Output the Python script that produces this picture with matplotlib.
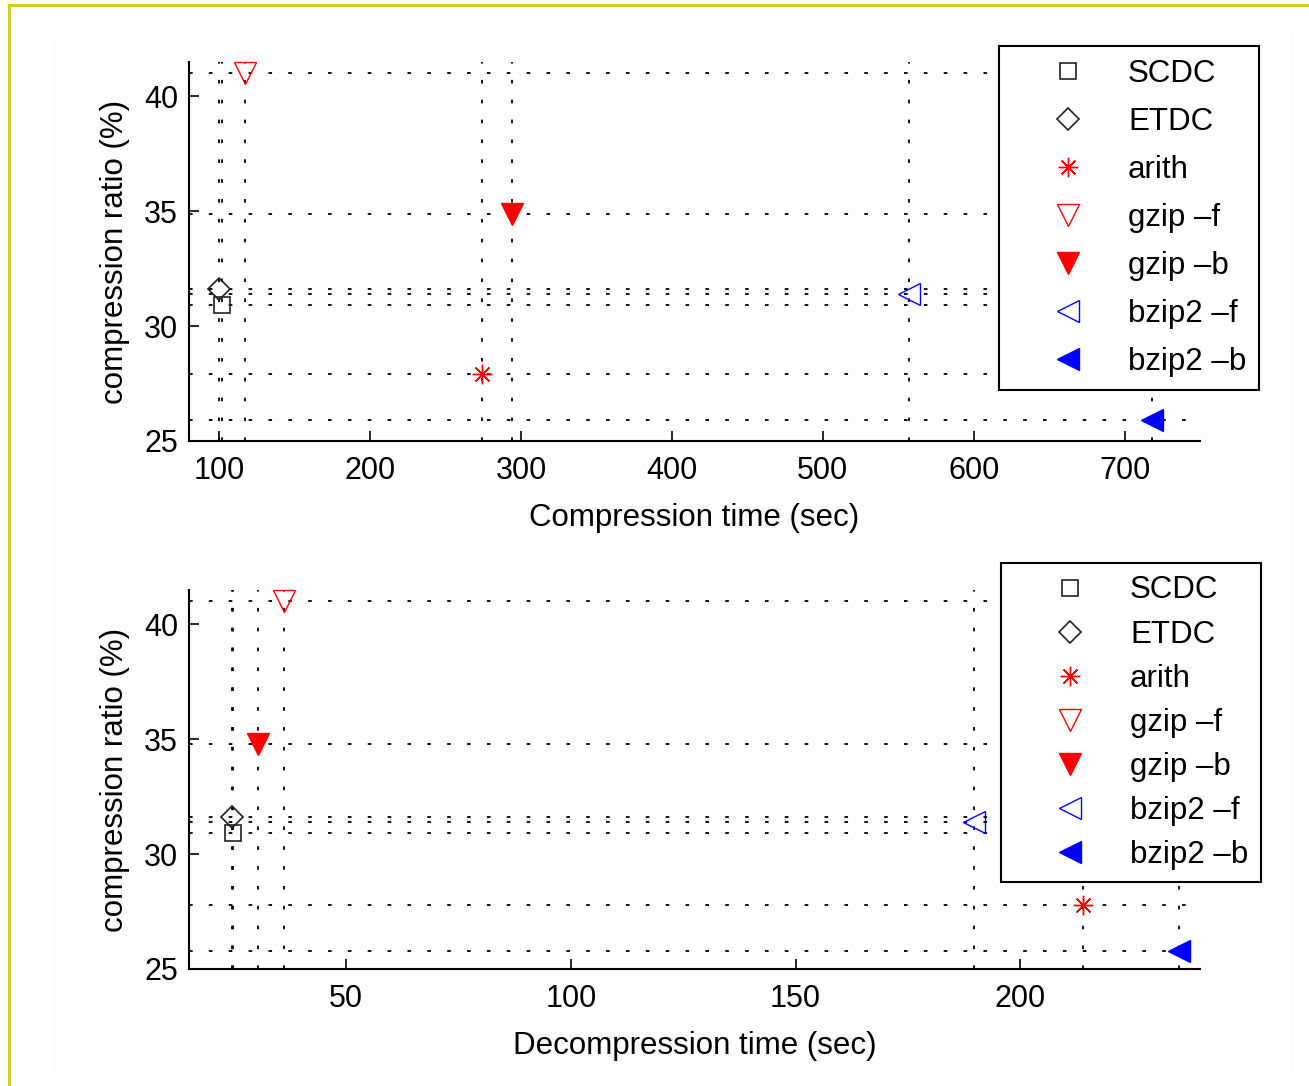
import matplotlib
matplotlib.use('Agg')
from matplotlib import pyplot as plt
from matplotlib.lines import Line2D
from matplotlib.patches import Rectangle

plt.rcParams['font.family'] = ['Liberation Sans', 'DejaVu Sans']
plt.rcParams['font.size'] = 22

methods = ['SCDC', 'ETDC', 'arith', 'gzip \u2013f', 'gzip \u2013b', 'bzip2 \u2013f', 'bzip2 \u2013b']
comp_ratio = [30.9, 31.6, 27.9, 41.0, 34.9, 31.4, 25.9]
comp_time = [102, 100, 274, 117, 294, 557, 718]
decomp_ratio = [30.9, 31.6, 27.8, 41.0, 34.8, 31.4, 25.8]
decomp_time = [24.9, 24.5, 214, 36.2, 30.4, 189.8, 235.3]

comp_xticks = [100, 200, 300, 400, 500, 600, 700]
decomp_xticks = [50, 100, 150, 200]
yticks = [25, 30, 35, 40]

RED = '#ff0000'
BLUE = '#0000ff'
STYLES = {
    'SCDC': dict(marker='s', ms=12, mfc='none', mec='#222222', mew=1.2),
    'ETDC': dict(marker='D', ms=11, mfc='none', mec='#222222', mew=1.2),
    'arith': dict(marker=(8, 2, 0), ms=14, mec=RED, mew=1.0),
    'gzip \u2013f': dict(marker='v', ms=15.5, mfc='none', mec=RED, mew=1.0),
    'gzip \u2013b': dict(marker='v', ms=15.5, mfc=RED, mec=RED, mew=1.0),
    'bzip2 \u2013f': dict(marker='<', ms=15.5, mfc='none', mec=BLUE, mew=1.0),
    'bzip2 \u2013b': dict(marker='<', ms=15.5, mfc=BLUE, mec=BLUE, mew=1.0),
}
GUIDE = dict(color='black', lw=1.3, ls=(0, (2.0, 9.0)), zorder=1)

W, H = 1309, 1086


def fig_rect(left, top, right, bottom):
    return [left / W, 1 - bottom / H, (right - left) / W, (bottom - top) / H]


def draw_panel(fig, rect, times, ratios, xlim, xticks, xlabel, legend_top, spacing):
    ax = fig.add_axes(fig_rect(*rect))
    ax.set_facecolor('none')
    for x, y in zip(times, ratios):
        ax.axhline(y, **GUIDE)
        ax.axvline(x, **GUIDE)
    for name, x, y in zip(methods, times, ratios):
        ax.plot([x], [y], ls='none', label=name, zorder=3, clip_on=False, **STYLES[name])

    ax.set_xlim(*xlim)
    ax.set_ylim(25, 41.5)
    ax.set_xticks(xticks)
    ax.set_yticks(yticks)
    for side in ('top', 'right'):
        ax.spines[side].set_visible(False)
    for side in ('left', 'bottom'):
        ax.spines[side].set_linewidth(1.5)
    ax.tick_params(axis='x', direction='in', length=7, width=1.2, pad=11, labelsize=22)
    ax.tick_params(axis='y', direction='in', length=7, width=1.2, pad=8, labelsize=22)
    ax.set_xlabel(xlabel, fontsize=22.5, labelpad=12)
    ax.set_ylabel('compression ratio (%)', fontsize=22.5, labelpad=10)

    leg = ax.legend(loc='upper left', bbox_to_anchor=(legend_top[0] / W, 1 - legend_top[1] / H),
                    bbox_transform=fig.transFigure, borderaxespad=0, fancybox=False,
                    framealpha=1, edgecolor='black', handlelength=3.62, handletextpad=0.11,
                    labelspacing=spacing, borderpad=0.4, fontsize=22.5, numpoints=1)
    leg.get_frame().set_linewidth(1.5)
    leg.set_zorder(5)
    return ax


def main():
    fig = plt.figure(figsize=(W / 100, H / 100), dpi=100)
    fig.patch.set_facecolor('white')

    # light page area and yellow frame of the screenshot
    fig.add_artist(Rectangle((53 / W, 1 - 1073 / H), (1295 - 53) / W, (1073 - 33) / H,
                             transform=fig.transFigure, facecolor='#fdfdfd', edgecolor='none', zorder=0))
    fig.add_artist(Line2D([9 / W, 1], [1 - 5 / H, 1 - 5 / H], transform=fig.transFigure,
                          color='#d0d020', lw=2.2))
    fig.add_artist(Line2D([9 / W, 9 / W], [0, 1 - 5 / H], transform=fig.transFigure,
                          color='#d0d020', lw=2.2))

    draw_panel(fig, (189, 62, 1200, 441), comp_time, comp_ratio, (80, 750), comp_xticks,
               'Compression time (sec)', (999, 46), 0.58)
    draw_panel(fig, (189, 590, 1200, 969), decomp_time, decomp_ratio, (15, 240), decomp_xticks,
               'Decompression time (sec)', (1001, 563), 0.45)

    fig.savefig('out.png', dpi=100)


if __name__ == '__main__':
    main()
